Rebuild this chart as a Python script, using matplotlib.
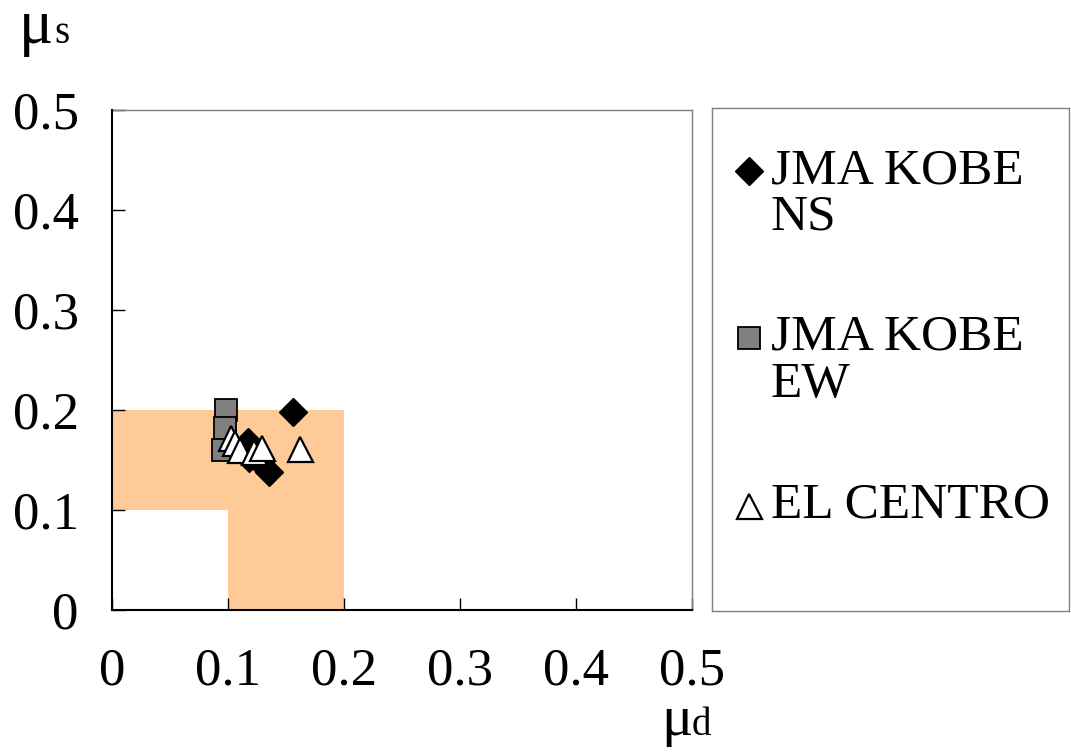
import matplotlib
matplotlib.use("Agg")
import matplotlib.pyplot as plt

# Friction coefficient pairs (mu_d, mu_s) for each input motion
kobe_ns_mud = [0.156, 0.117, 0.118, 0.128, 0.135]
kobe_ns_mus = [0.198, 0.168, 0.152, 0.148, 0.138]

kobe_ew_mud = [0.098, 0.097, 0.096]
kobe_ew_mus = [0.200, 0.182, 0.160]

elcentro_mud = [0.103, 0.106, 0.110, 0.122, 0.129, 0.162]
elcentro_mus = [0.172, 0.167, 0.160, 0.158, 0.162, 0.161]

# L-shaped admissible region outline (mu_d, mu_s)
region_mud = [0.0, 0.2, 0.2, 0.1, 0.1, 0.0]
region_mus = [0.2, 0.2, 0.0, 0.0, 0.1, 0.1]

ticks = [0, 0.1, 0.2, 0.3, 0.4, 0.5]
tick_labels = ["0", "0.1", "0.2", "0.3", "0.4", "0.5"]

series_labels = ["JMA KOBE\nNS", "JMA KOBE\nEW", "EL CENTRO"]

plt.rcParams["font.family"] = ["Liberation Serif", "DejaVu Serif"]

W, H = 1071, 754
fig = plt.figure(figsize=(W / 100, H / 100), dpi=100)

ax = fig.add_axes([112 / W, 1 - 610 / H, 580 / W, 500 / H])
ax.set_xlim(0, 0.5)
ax.set_ylim(0, 0.5)

ax.fill(region_mud, region_mus, color="#FDCA98", lw=0, zorder=1)

styles = [
    dict(marker="D", markersize=14.5, markerfacecolor="black", markeredgewidth=1.0),
    dict(marker="s", markersize=15.5, markerfacecolor="#808080", markeredgewidth=1.3),
    dict(marker="^", markersize=18, markerfacecolor="white", markeredgewidth=1.6),
]
mk = dict(linestyle="none", markeredgecolor="black", zorder=3)
ax.plot(kobe_ns_mud, kobe_ns_mus, **styles[0], **mk)
ax.plot(kobe_ew_mud, kobe_ew_mus, **styles[1], **mk)
ax.plot(elcentro_mud, elcentro_mus, **styles[2], **mk)

ax.set_xticks(ticks)
ax.set_yticks(ticks)
ax.set_xticklabels(tick_labels, fontsize=38)
ax.set_yticklabels(tick_labels, fontsize=38)
ax.tick_params(axis="both", direction="in", length=9, width=1.0, color="black")
ax.tick_params(axis="x", pad=27)
ax.tick_params(axis="y", pad=24)

for side in ("left", "bottom"):
    ax.spines[side].set_color("black")
    ax.spines[side].set_linewidth(1.5)
for side in ("top", "right"):
    ax.spines[side].set_color("#7f7f7f")
    ax.spines[side].set_linewidth(1.0)
ax.spines["bottom"].set_zorder(4)
ax.spines["left"].set_zorder(4)

# Axis symbols
fig.text(19 / W, 1 - 43 / H, "μ", fontsize=46, ha="left", va="baseline")
fig.text(54 / W, 1 - 43 / H, "s", fontsize=28, ha="left", va="baseline")
fig.text(661 / W, 1 - 735 / H, "μ", fontsize=42, ha="left", va="baseline")
fig.text(692 / W, 1 - 735 / H, "d", fontsize=28, ha="left", va="baseline")

# Legend panel
lax = fig.add_axes([712 / W, 1 - 611 / H, 357 / W, 503 / H])
lax.set_xlim(0, 1)
lax.set_ylim(0, 1)
lax.set_xticks([])
lax.set_yticks([])
for s in lax.spines.values():
    s.set_color("#7f7f7f")
    s.set_linewidth(1.0)


def lpos(px, py):
    return (px - 712) / 357, 1 - (py - 108) / 503


marker_rows = [171, 338, 506]
text_rows = [183, 350, 518]
line_step = 47
for my, ty, st, lab in zip(marker_rows, text_rows, styles, series_labels):
    mx, myy = lpos(749, my)
    lax.plot([mx], [myy], linestyle="none", markeredgecolor="black",
             transform=lax.transAxes, clip_on=False, **st)
    for i, line in enumerate(lab.split("\n")):
        tx, tyy = lpos(771, ty + i * line_step)
        lax.text(tx, tyy, line, fontsize=37, ha="left", va="baseline",
                 transform=lax.transAxes)

fig.savefig("out.png", dpi=100)
